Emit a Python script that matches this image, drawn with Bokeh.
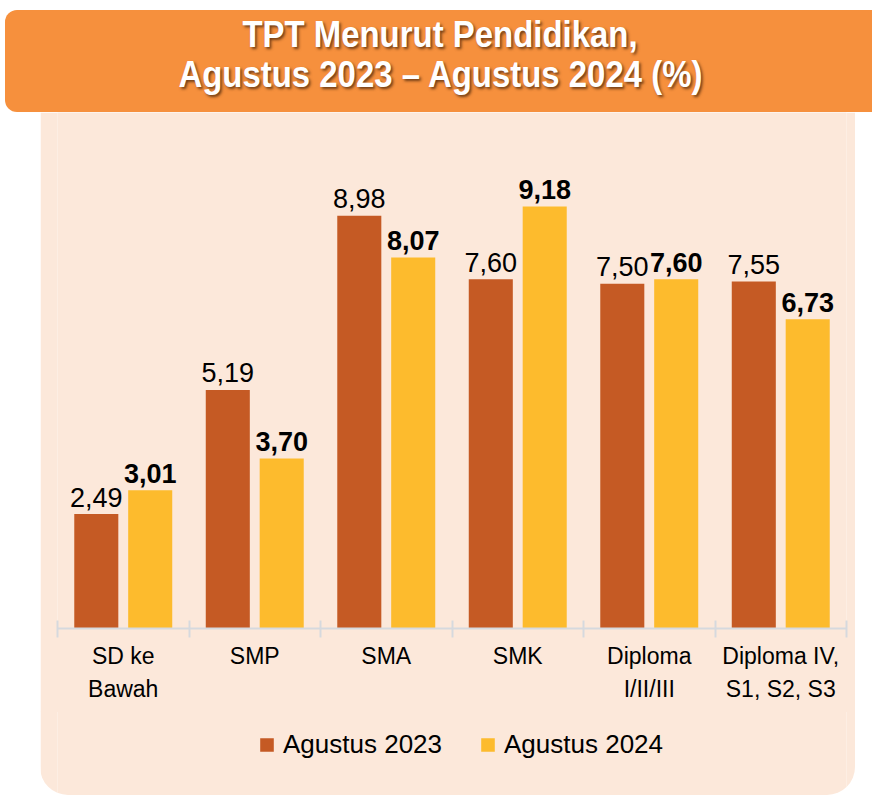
from bokeh.plotting import figure
from bokeh.models import (Range1d, LinearAxis, FixedTicker, Legend, LegendItem,
                          ColumnDataSource, Div)
from bokeh.layouts import column
from bokeh.core.properties import value
from bokeh.embed import file_html
from bokeh.resources import INLINE

# ---- data ----
categories = ["SD ke\nBawah", "SMP", "SMA", "SMK", "Diploma\nI/II/III", "Diploma IV,\nS1, S2, S3"]
agustus_2023 = [2.49, 5.19, 8.98, 7.60, 7.50, 7.55]
agustus_2024 = [3.01, 3.70, 8.07, 9.18, 7.60, 6.73]
series_names = ["Agustus 2023", "Agustus 2024"]
title_lines = ["TPT Menurut Pendidikan,", "Agustus 2023 \u2013 Agustus 2024 (%)"]

FONT = "Liberation Sans"
C2023 = "#C55A24"
C2024 = "#FDBB2D"
PEACH = "#FCE8DA"
ORANGE = "#F6903D"

def fmt(v):
    return f"{v:.2f}".replace(".", ",")

n = len(categories)
centers = [i + 0.5 for i in range(n)]
off = 0.205
bw = 0.335

src23 = ColumnDataSource(dict(x=[c - off for c in centers], top=agustus_2023,
                              lab=[fmt(v) for v in agustus_2023]))
src24 = ColumnDataSource(dict(x=[c + off for c in centers], top=agustus_2024,
                              lab=[fmt(v) for v in agustus_2024]))

# ---- main chart ----
p = figure(width=None, height=None, frame_width=789, frame_height=516,
           output_backend="svg", toolbar_location=None,
           x_axis_type=None, y_axis_type=None,
           x_range=Range1d(0, n), y_range=Range1d(0, 11.225),
           min_border_left=17, min_border_right=9, min_border_top=0,
           min_border_bottom=84,
           background_fill_color=PEACH, border_fill_color=PEACH,
           outline_line_color=None, margin=(0, 0, 0, 40))

r23 = p.vbar(x="x", top="top", width=bw, bottom=0, source=src23,
             fill_color=C2023, line_color=None)
r24 = p.vbar(x="x", top="top", width=bw, bottom=0, source=src24,
             fill_color=C2024, line_color=None)

p.text(x="x", y="top", text="lab", source=src23, text_align="center",
       text_baseline="alphabetic", y_offset=-17, text_font=value(FONT),
       text_font_size="27px", text_color="black")
p.text(x="x", y="top", text="lab", source=src24, text_align="center",
       text_baseline="alphabetic", y_offset=-17, text_font=value(FONT),
       text_font_size="27px", text_font_style="bold", text_color="black")

ax = LinearAxis(ticker=FixedTicker(ticks=centers, minor_ticks=list(range(n + 1))))
ax.major_label_overrides = {c: lab for c, lab in zip(centers, categories)}
ax.major_tick_line_color = None
ax.major_tick_in = 0
ax.major_tick_out = 0
ax.minor_tick_in = 8
ax.minor_tick_out = 9
ax.minor_tick_line_color = "#D6D9DE"
ax.minor_tick_line_width = 2
ax.axis_line_color = "#D6D9DE"
ax.axis_line_width = 2
ax.major_label_standoff = 5
ax.major_label_text_font = FONT
ax.major_label_text_font_size = "23px"
ax.major_label_text_line_height = 1.3
ax.major_label_text_color = "black"
p.add_layout(ax, "below")

# ---- legend strip: same sources/styles, renderers hidden (legend only) ----
pl = figure(width=815, height=84, output_backend="svg", toolbar_location=None,
            x_axis_type=None, y_axis_type=None,
            x_range=Range1d(0, n), y_range=Range1d(0, 11.225),
            min_border=0, background_fill_color=PEACH, border_fill_color=PEACH,
            outline_line_color=None, margin=(-1, 0, 0, 40),
            styles={"border-radius": "0 0 28px 28px", "overflow": "hidden"})
l23 = pl.vbar(x="x", top="top", width=bw, bottom=0, source=src23,
              fill_color=C2023, line_color=None, visible=False)
l24 = pl.vbar(x="x", top="top", width=bw, bottom=0, source=src24,
              fill_color=C2024, line_color=None, visible=False)

legend = Legend(items=[LegendItem(label=series_names[0], renderers=[l23]),
                       LegendItem(label=series_names[1], renderers=[l24])],
                orientation="horizontal", location=(201, 35),
                glyph_width=17, glyph_height=17, label_standoff=8, spacing=37,
                label_text_font=FONT, label_text_font_size="26px",
                label_text_color="black", background_fill_alpha=0,
                border_line_color=None, margin=0, padding=0)
pl.add_layout(legend, "center")

# ---- title banner ----
html = ("<div style=\"box-sizing:border-box;margin-top:10px;margin-left:5px;width:867px;"
        f"height:102px;background:{ORANGE};border-radius:12px 0 0 12px;color:white;"
        f"font-family:'{FONT}';font-weight:bold;font-size:37px;line-height:40px;"
        "text-align:center;padding-top:5px;padding-left:3px;"
        "text-shadow:2px 2px 3px rgba(70,35,10,0.75);\">"
        + "".join(f"<span style=\"display:inline-block;transform:scaleX(0.89);"
                  f"white-space:nowrap;\">{t}</span><br>" for t in title_lines)
        + "</div>")
banner = Div(text=html, width=872, height=112, margin=(0, 0, 0, 0))

layout = column(banner, p, pl, spacing=0)

open("out.html", "w").write(file_html(layout, INLINE))
